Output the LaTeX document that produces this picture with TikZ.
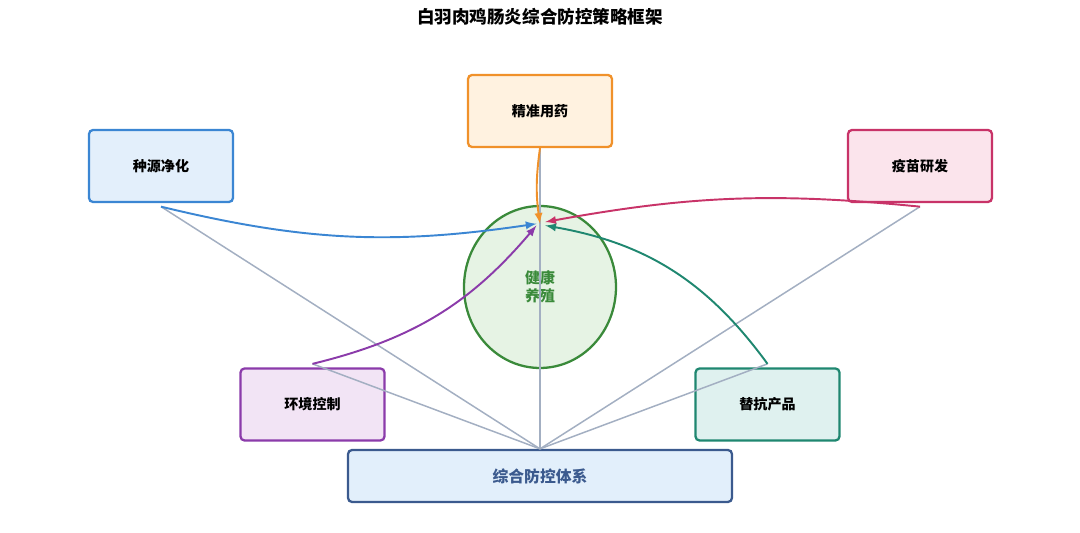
\documentclass[tikz,border=0pt]{standalone}
\usepackage{fontspec}
\setmainfont{Noto Sans CJK SC}
\usetikzlibrary{positioning,calc,shapes.geometric}

\definecolor{precline}{HTML}{F0912A}\definecolor{precfill}{HTML}{FFF2E0}
\definecolor{breedline}{HTML}{3B86D3}\definecolor{breedfill}{HTML}{E3EFFB}
\definecolor{vaccline}{HTML}{C83368}\definecolor{vaccfill}{HTML}{FBE4EC}
\definecolor{envline}{HTML}{8B3BAA}\definecolor{envfill}{HTML}{F2E4F5}
\definecolor{altline}{HTML}{1F8770}\definecolor{altfill}{HTML}{DFF1EF}
\definecolor{sysline}{HTML}{3B5A8E}\definecolor{sysfill}{HTML}{E2EFFB}
\definecolor{healthline}{HTML}{3A8A3A}\definecolor{healthfill}{HTML}{E6F3E4}
\definecolor{linkgray}{HTML}{A3AFC2}

\begin{document}
\begin{tikzpicture}[
		x=0.02cm, y=-0.02cm,
		node/.style={draw, rectangle, rounded corners=0.08cm, line width=1.3pt, minimum width=2.88cm, minimum height=1.44cm, align=center, font=\fontsize{8}{10}\selectfont\bfseries},
		hub/.style={draw, ellipse, line width=1.3pt, minimum width=3.04cm, minimum height=3.24cm, align=center, font=\fontsize{8.5}{10}\selectfont\bfseries},
		link/.style={linkgray, line width=0.85pt},
		line/.style={-latex, line width=1.1pt}
		]
		\useasboundingbox (0,0) rectangle (1080,533);
		
		% ======================
		% Title
		% ======================
		\node[font=\fontsize{10}{12}\selectfont\bfseries] (title) at (540,17) {白羽肉鸡肠炎综合防控策略框架};
		
		% ======================
		% Center
		% ======================
		\node[hub, draw=healthline, fill=healthfill, text=healthline] (health) at (540,287) {健康\\养殖};
		\coordinate (hit) at (540,222);
		
		% ======================
		% TOP
		% ======================
		\node[node, draw=precline, fill=precfill] (prec) at (540,111) {精准用药};
		\node[node, draw=breedline, fill=breedfill] (breed) at (161,166) {种源净化};
		\node[node, draw=vaccline, fill=vaccfill] (vacc) at (920,166) {疫苗研发};
		
		% ======================
		% BOTTOM
		% ======================
		\node[node, draw=envline, fill=envfill] (env) at (312.5,404.5) {环境控制};
		\node[node, draw=altline, fill=altfill] (alt) at (767.5,404.5) {替抗产品};
		\node[node, draw=sysline, fill=sysfill, text=sysline, minimum width=7.68cm, minimum height=1.04cm, font=\fontsize{9}{11}\selectfont\bfseries] (sys) at (540,476) {综合防控体系};
		
		% ======================
		% LINKS
		% ======================
		\draw[link] (sys.north) -- ([yshift=-2]breed.south);
		\draw[link] (sys.north) -- ([yshift=-2]vacc.south);
		\draw[link] (sys.north) -- (prec.south);
		\draw[link] (sys.north) -- ([yshift=2]env.north);
		\draw[link] (sys.north) -- ([yshift=2]alt.north);
		
		% ======================
		% ARROWS
		% ======================
		\draw[line, precline] (prec.south) to[bend right=8] ([yshift=-1]hit);
		\draw[line, breedline] ([yshift=-2]breed.south) to[bend right=11] ([xshift=-2,yshift=-1]hit);
		\draw[line, vaccline] ([yshift=-2]vacc.south) to[bend right=8] ([xshift=3]hit);
		\draw[line, envline] ([yshift=2]env.north) to[bend right=18] ([xshift=-2,yshift=-2]hit);
		\draw[line, altline] ([yshift=2]alt.north) to[bend right=22] ([xshift=3,yshift=-2]hit);
		
	\end{tikzpicture}
\end{document}
